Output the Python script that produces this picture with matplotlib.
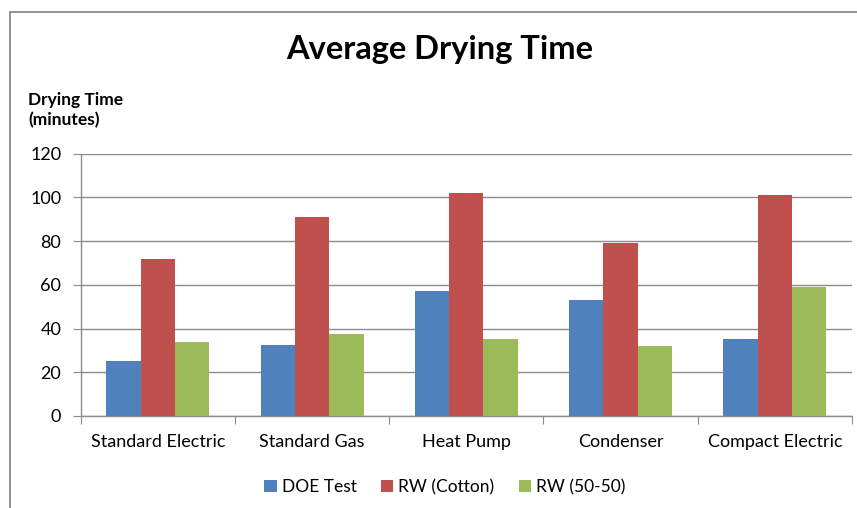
import matplotlib
matplotlib.use("Agg")
import matplotlib.pyplot as plt
import numpy as np
from matplotlib.patches import Rectangle

categories = ["Standard Electric", "Standard Gas", "Heat Pump", "Condenser", "Compact Electric"]
series_names = ["DOE Test", "RW (Cotton)", "RW (50-50)"]
doe_test = [25, 32.5, 57, 53, 35]
rw_cotton = [72, 91, 102, 79, 101]
rw_5050 = [34, 37.5, 35, 32, 59]
colors = ["#4F81BD", "#C0504D", "#9BBB59"]
yticks = [0, 20, 40, 60, 80, 100, 120]

plt.rcParams['font.family'] = ['Lato', 'DejaVu Sans']

W, H = 857, 508
fig = plt.figure(figsize=(W / 100, H / 100), dpi=100)
ax = fig.add_axes([80.7 / W, 1 - 416 / H, (852 - 80.7) / W, (416 - 153.7) / H])

n = len(categories)
x = np.arange(n)
bw = 1 / 4.5
for i, (vals, name, c) in enumerate(zip([doe_test, rw_cotton, rw_5050], series_names, colors)):
    ax.bar(x + (i - 1) * bw, vals, width=bw, color=c, label=name, zorder=3)

ax.set_xlim(-0.5, n - 0.5)
ax.set_ylim(0, 120)
ax.set_yticks(yticks)
ax.set_yticklabels([str(v) for v in yticks], fontsize=13)
ax.yaxis.grid(True, color="#8C8C8C", linewidth=1, zorder=0)
ax.set_axisbelow(True)

ax.set_xticks(np.arange(-0.5, n, 1))
ax.set_xticklabels([])
ax.set_xticks(x, minor=True)
ax.set_xticklabels(categories, minor=True, fontsize=13)
ax.tick_params(axis='x', which='minor', length=0, pad=13)
ax.tick_params(axis='x', which='major', length=6, color="#8C8C8C", direction='out')
ax.tick_params(axis='y', length=6, color="#8C8C8C", direction='out', pad=8)

for s in ["top", "right"]:
    ax.spines[s].set_visible(False)
for s in ["left", "bottom"]:
    ax.spines[s].set_color("#8C8C8C")
    ax.spines[s].set_linewidth(1)

fig.text(440 / W, 1 - 50 / H, "Average Drying Time", ha="center", va="center",
         fontsize=23.5, fontweight="bold")
fig.text(28 / W, 1 - 110 / H, "Drying Time\n(minutes)", ha="left", va="center",
         fontsize=12.5, fontweight="bold", linespacing=1.35)

leg = fig.legend(loc="center", bbox_to_anchor=(445 / W, 1 - 487 / H), ncol=3,
                 frameon=False, fontsize=12.5, handlelength=0.7, handleheight=0.7,
                 columnspacing=1.4, handletextpad=0.3)

fig.patches.append(Rectangle((10 / W, -0.1), 1.2, 1 - 12 / H + 0.1, transform=fig.transFigure,
                             fill=False, edgecolor="#7F7F7F", linewidth=1.2))

fig.savefig("out.png", dpi=100)
